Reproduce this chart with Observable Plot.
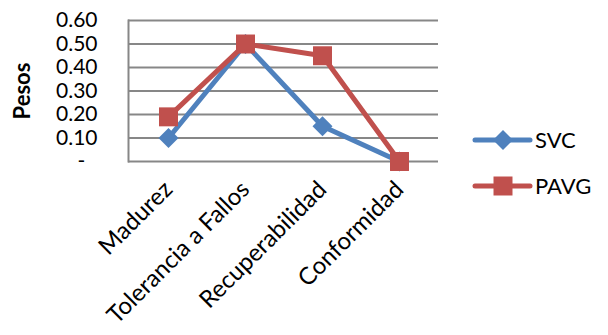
<!DOCTYPE html>
<html><head><meta charset="utf-8">
<script src="https://cdn.jsdelivr.net/npm/d3@7"></script>
<script src="https://cdn.jsdelivr.net/npm/@observablehq/plot@0.6"></script>
<style>body{margin:0;background:#fff}</style>
</head><body><div id="chart"></div>
<script>
const categories = ["Madurez", "Tolerancia a Fallos", "Recuperabilidad", "Conformidad"];
const svcValues = [0.10, 0.50, 0.15, 0.00];
const pavgValues = [0.19, 0.50, 0.45, 0.00];
const seriesNames = ["SVC", "PAVG"];
const yTicks = [0, 0.1, 0.2, 0.3, 0.4, 0.5, 0.6];

const colors = {SVC: "#4F81BD", PAVG: "#C0504D"};
const data = [];
categories.forEach((c, i) => {
  data.push({cat: c, value: svcValues[i], series: "SVC"});
  data.push({cat: c, value: pavgValues[i], series: "PAVG"});
});
const FONT = "Lato, 'Open Sans', sans-serif";
const grid = "#878787";

const plot = Plot.plot({
  width: 608, height: 335,
  marginLeft: 128, marginRight: 170, marginTop: 20, marginBottom: 174,
  style: {fontFamily: FONT, fontSize: "22px", color: "#000", background: "#fff"},
  x: {type: "point", domain: categories, padding: 0.5},
  y: {domain: [0, 0.6]},
  marks: [
    Plot.ruleY(yTicks, {stroke: grid, strokeWidth: 2}),
    Plot.frame({anchor: "left", stroke: grid, strokeWidth: 2}),
    Plot.axisY({ticks: yTicks, tickSize: 0, tickPadding: 31, label: null,
      tickFormat: d => d === 0 ? "-\u2007" : d.toFixed(2), fontSize: 21}),
    Plot.text(["Pesos"], {frameAnchor: "left", dx: -106, rotate: -90, textAnchor: "middle", fontWeight: "bold", fontSize: 22, text: d => d}),
    Plot.axisX({tickSize: 0, tickPadding: 24, tickRotate: -45, label: null, fontSize: 24}),
    Plot.line(data, {x: "cat", y: "value", z: "series", stroke: d => colors[d.series], strokeWidth: 5}),
    Plot.dot(data.filter(d => d.series === "SVC"), {x: "cat", y: "value", symbol: "diamond2", r: 9, fill: colors.SVC, stroke: "none"}),
    Plot.dot(data.filter(d => d.series === "PAVG"), {x: "cat", y: "value", symbol: "square", r: 10.7, fill: colors.PAVG, stroke: "none"})
  ]
});
document.getElementById("chart").appendChild(plot);

// legend
const svg = d3.select(plot);
const lg = svg.append("g").attr("font-family", FONT).attr("font-size", 22).attr("text-anchor", "start");
seriesNames.forEach((s, i) => {
  const y = 140 + i * 46;
  lg.append("line").attr("x1", 475).attr("x2", 530).attr("y1", y).attr("y2", y)
    .attr("stroke", colors[s]).attr("stroke-width", 5).attr("stroke-linecap", "round");
  const sym = s === "SVC" ? d3.symbol(d3.symbolDiamond2, 255) : d3.symbol(d3.symbolSquare, 361);
  lg.append("path").attr("d", sym()).attr("transform", `translate(503,${y})`).attr("fill", colors[s]);
  lg.append("text").attr("x", 535).attr("y", y).attr("dy", "0.35em").attr("text-anchor", "start").text(s);
});
</script></body></html>
